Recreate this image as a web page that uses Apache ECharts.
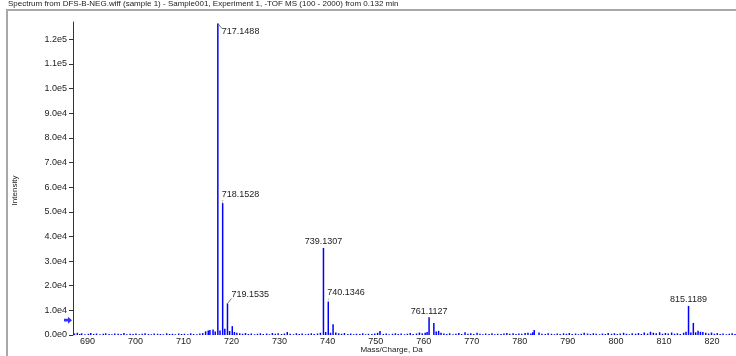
<!DOCTYPE html>
<html>
<head>
<meta charset="utf-8">
<script src="https://cdn.jsdelivr.net/npm/echarts@6/dist/echarts.min.js"></script>
<style>
  html, body { margin: 0; padding: 0; background: #fff; }
  #chart { width: 736px; height: 356px; }
</style>
</head>
<body>
<div id="chart"></div>
<script>
const titleText = 'Spectrum from DFS-B-NEG.wiff (sample 1) - Sample001, Experiment 1, -TOF MS (100 - 2000) from 0.132 min';
const xName = 'Mass/Charge, Da';
const yName = 'Intensity';

const xTicks = [690, 700, 710, 720, 730, 740, 750, 760, 770, 780, 790, 800, 810, 820];
const yTicks = [0, 10000, 20000, 30000, 40000, 50000, 60000, 70000, 80000, 90000, 100000, 110000, 120000];

// main peaks
const peakMz = [715.15, 716.15, 717.1488, 718.1528, 719.1535, 720.15, 739.1307, 740.1346, 741.13, 761.1127, 762.11, 763.1, 783.0, 784.0, 815.1189, 816.12, 817.1];
const peakInt = [1800, 2200, 126400, 53500, 12800, 3600, 35300, 13500, 4400, 7200, 4900, 1700, 2000, 1000, 11800, 4900, 1700];

// labelled peaks
const labelMz = [717.1488, 718.1528, 719.1535, 739.1307, 740.1346, 761.1127, 815.1189];
const labelInt = [126400, 53500, 12800, 35300, 13500, 7200, 11800];
const labelText = ['717.1488', '718.1528', '719.1535', '739.1307', '740.1346', '761.1127', '815.1189'];
const labelPlacement = ['downRight', 'up', 'upRight', 'center', 'up', 'center', 'center'];

// baseline noise
const noiseMz = [687.3, 687.9, 688.4, 688.8, 689.5, 690.2, 690.7, 691.3, 691.9, 692.6, 693.3, 693.8, 694.5, 695.1, 695.7,
  696.4, 697.0, 697.6, 698.2, 698.9, 699.5, 700.1, 700.8, 701.4, 702.0, 702.7, 703.3, 703.9, 704.6, 705.2, 705.8, 706.5,
  707.1, 707.7, 708.3, 709.0, 709.6, 710.2, 710.9, 711.5, 712.1, 712.8, 713.4, 714.0, 714.6, 715.5, 716.6, 717.6, 718.6,
  719.6, 720.6, 721.1, 721.7, 722.3, 722.9, 723.5, 724.1, 724.8, 725.4, 726.0, 726.6, 727.3, 727.9, 728.5, 729.1, 729.7,
  730.4, 731.0, 731.6, 732.2, 732.9, 733.5, 734.1, 734.7, 735.4, 736.0, 736.6, 737.2, 737.9, 738.5, 739.6, 740.6, 741.7,
  742.3, 742.9, 743.5, 744.2, 744.8, 745.4, 746.0, 746.7, 747.3, 747.9, 748.5, 749.2, 749.8, 750.4, 750.9, 751.6, 752.2,
  752.8, 753.5, 754.1, 754.7, 755.3, 756.0, 756.6, 757.2, 757.8, 758.5, 759.1, 759.7, 760.3, 760.7, 762.6, 763.6, 764.2,
  764.8, 765.4, 766.1, 766.7, 767.3, 767.9, 768.6, 769.2, 769.8, 770.4, 771.1, 771.7, 772.3, 772.9, 773.6, 774.2, 774.8,
  775.4, 776.1, 776.7, 777.3, 777.9, 778.6, 779.2, 779.8, 780.4, 781.1, 781.7, 782.3, 782.7, 784.6, 785.3, 785.9, 786.6,
  787.2, 787.8, 788.4, 789.1, 789.7, 790.3, 790.9, 791.6, 792.2, 792.8, 793.4, 794.1, 794.7, 795.3, 795.9, 796.6, 797.2,
  797.8, 798.4, 799.1, 799.7, 800.3, 800.9, 801.6, 802.2, 802.8, 803.4, 804.1, 804.7, 805.3, 805.9, 806.6, 807.2, 807.8,
  808.4, 809.1, 809.7, 810.3, 810.9, 811.6, 812.2, 812.8, 813.4, 814.1, 814.6, 815.6, 816.6, 817.6, 818.1, 818.7, 819.3,
  819.9, 820.5, 821.1, 821.7, 822.3, 823.0, 823.6, 824.2, 824.8];
const noiseInt = [600, 900, 400, 700, 300, 500, 800, 400, 600, 300, 500, 700, 400, 300, 600,
  500, 400, 800, 300, 500, 400, 600, 300, 500, 700, 400, 300, 600, 500, 400, 300, 700,
  400, 500, 300, 600, 400, 500, 300, 700, 400, 300, 600, 800, 1500, 2000, 1400, 1800, 2500,
  1600, 1200, 900, 700, 500, 800, 400, 600, 300, 500, 700, 400, 600, 300, 800, 500, 700,
  400, 600, 1200, 500, 300, 700, 400, 600, 300, 500, 700, 400, 600, 900, 1200, 900, 1000,
  700, 500, 800, 400, 600, 300, 500, 400, 700, 300, 500, 400, 600, 900, 1600, 400, 600,
  300, 500, 700, 400, 600, 300, 500, 800, 400, 600, 1000, 700, 900, 1200, 1400, 900, 600,
  400, 700, 300, 500, 800, 400, 1100, 500, 700, 400, 900, 500, 300, 600, 400, 700, 300,
  500, 400, 600, 800, 500, 700, 400, 600, 500, 800, 900, 600, 1100, 500, 400, 700, 500,
  300, 600, 400, 700, 500, 800, 400, 600, 300, 500, 900, 600, 400, 700, 500, 300, 600,
  400, 800, 500, 700, 400, 600, 900, 500, 300, 700, 500, 800, 400, 1000, 600, 1300, 900,
  700, 1100, 500, 800, 600, 1000, 500, 700, 400, 900, 1300, 1000, 1100, 1300, 1200, 900, 600,
  1000, 500, 800, 400, 600, 300, 500, 700, 400];

const thresholdLevel = 6000;

const font = 'Liberation Sans, Arial, sans-serif';
const blue = '#0000ff';

const sticks = noiseMz.map((m, i) => [m, noiseInt[i]])
  .concat(peakMz.map((m, i) => [m, peakInt[i]]));
const labels = labelMz.map((m, i) => [m, labelInt[i]]);

function sci(v) {
  if (v === 0) return '0.0e0';
  const e = Math.floor(Math.log10(v) + 1e-9);
  return (v / Math.pow(10, e)).toFixed(1) + 'e' + e;
}

function renderStick(params, api) {
  const top = api.coord([api.value(0), api.value(1)]);
  const base = api.coord([api.value(0), 0]);
  return {
    type: 'line',
    shape: { x1: top[0], y1: base[1], x2: top[0], y2: top[1] },
    style: { stroke: blue, lineWidth: 1.5 }
  };
}

function renderLabel(params, api) {
  const i = params.dataIndex;
  const p = api.coord([api.value(0), api.value(1)]);
  const kind = labelPlacement[i];
  const children = [];
  let tx = p[0], ty = p[1], align = 'left';
  if (kind === 'downRight') {
    children.push({ type: 'line', shape: { x1: p[0], y1: p[1], x2: p[0] + 4, y2: p[1] + 5 }, style: { stroke: '#555', lineWidth: 0.8 } });
    tx = p[0] + 4; ty = p[1] + 8;
  } else if (kind === 'upRight') {
    children.push({ type: 'line', shape: { x1: p[0], y1: p[1], x2: p[0] + 4, y2: p[1] - 5 }, style: { stroke: '#555', lineWidth: 0.8 } });
    tx = p[0] + 4; ty = p[1] - 9;
  } else if (kind === 'up') {
    children.push({ type: 'line', shape: { x1: p[0], y1: p[1], x2: p[0], y2: p[1] - 4 }, style: { stroke: '#777', lineWidth: 0.8, lineDash: [1, 1] } });
    tx = p[0] - 1; ty = p[1] - 9;
  } else {
    align = 'center'; ty = p[1] - 6;
  }
  children.push({
    type: 'text',
    x: tx, y: ty,
    style: { text: labelText[i], font: '9px ' + font, fill: '#222', align: align, verticalAlign: 'middle' }
  });
  return { type: 'group', children: children };
}

const chart = echarts.init(document.getElementById('chart'), null, { renderer: 'canvas' });

chart.setOption({
  animation: false,
  backgroundColor: '#fff',
  title: {
    text: titleText,
    left: 8, top: 0, padding: 0,
    textStyle: { fontFamily: font, fontSize: 8, fontWeight: 'normal', color: '#222' }
  },
  graphic: [{
    type: 'rect',
    shape: { x: 7, y: 10, width: 760, height: 380 },
    style: { fill: 'none', stroke: '#a8a8a8', lineWidth: 2 },
    silent: true
  }],
  grid: { left: 73, right: 0, top: 22, bottom: 21, containLabel: false, outerBoundsMode: 'none' },
  xAxis: {
    type: 'value',
    min: 687,
    max: 825,
    name: xName,
    nameLocation: 'middle',
    nameGap: 11,
    nameMoveOverlap: false,
    nameTextStyle: { fontFamily: font, fontSize: 8, color: '#222', padding: [0, 26, 0, 0] },
    axisLine: { show: false },
    axisTick: { show: false },
    splitLine: { show: false },
    axisLabel: {
      customValues: xTicks,
      margin: 2,
      fontFamily: font, fontSize: 9, color: '#222'
    }
  },
  yAxis: {
    type: 'value',
    min: 0,
    max: 127000,
    name: yName,
    nameLocation: 'middle',
    nameGap: 54,
    nameMoveOverlap: false,
    nameTextStyle: { fontFamily: font, fontSize: 8, color: '#222', padding: [0, 24, 0, 0] },
    axisLine: { show: true, lineStyle: { color: '#333', width: 1 } },
    axisTick: { show: true, customValues: yTicks, length: 4, lineStyle: { color: '#333' } },
    splitLine: { show: false },
    axisLabel: {
      customValues: yTicks,
      margin: 6,
      formatter: sci,
      fontFamily: font, fontSize: 9, color: '#222'
    }
  },
  series: [
    {
      type: 'custom',
      name: 'spectrum',
      renderItem: renderStick,
      data: sticks,
      clip: true,
      silent: true
    },
    {
      type: 'custom',
      name: 'labels',
      renderItem: renderLabel,
      data: labels,
      clip: false,
      silent: true,
      z: 5
    },
    {
      type: 'scatter',
      name: 'threshold',
      data: [[687, thresholdLevel]],
      symbol: 'path://M0,3 L5,3 L5,0 L10,5 L5,10 L5,7 L0,7 Z',
      symbolSize: [8, 7],
      symbolOffset: [-5, 0],
      itemStyle: { color: blue },
      clip: false,
      silent: true
    }
  ]
});
</script>
</body>
</html>
